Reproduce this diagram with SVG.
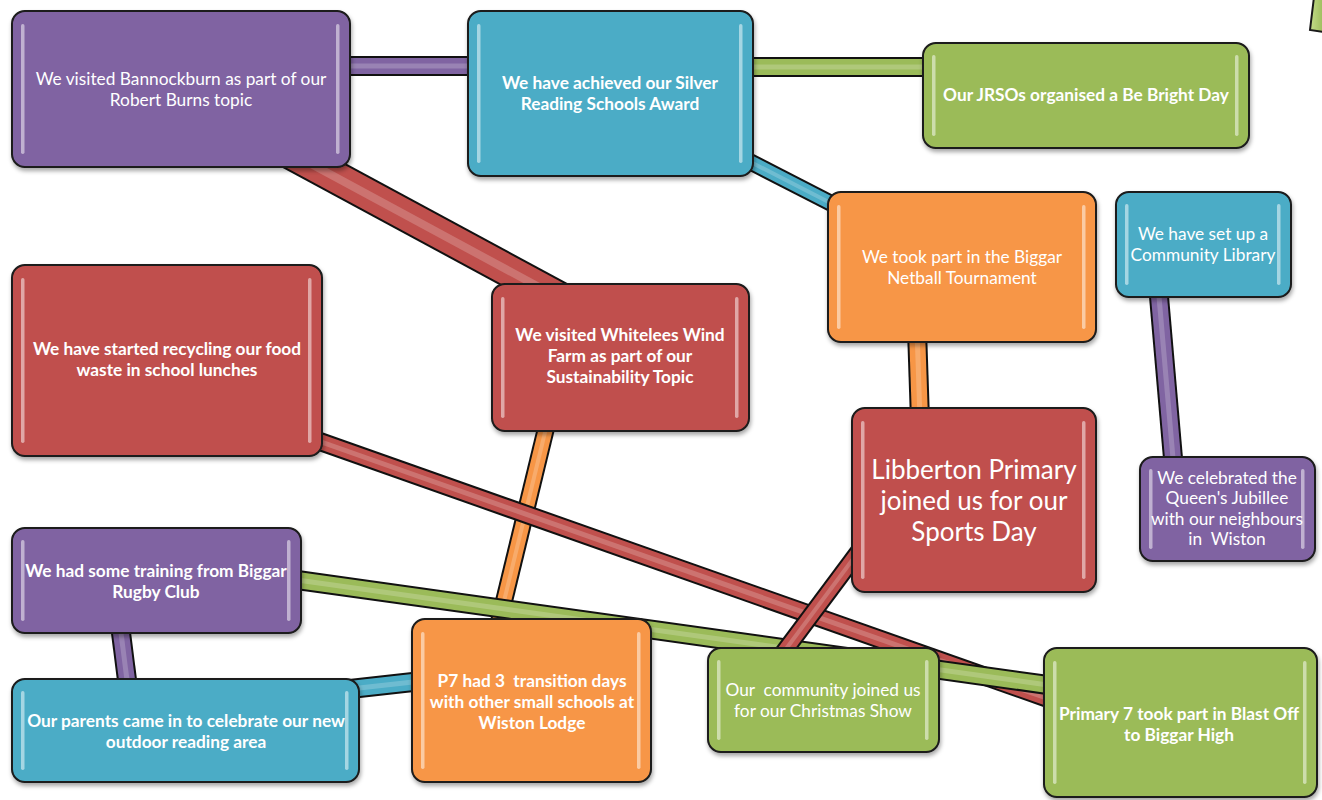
<svg xmlns="http://www.w3.org/2000/svg" width="1322" height="800" viewBox="0 0 1322 800">
<defs>
<filter id="sh" x="-10%" y="-10%" width="125%" height="130%">
<feDropShadow dx="1" dy="3" stdDeviation="2" flood-color="#000" flood-opacity="0.35"/>
</filter>
<linearGradient id="gcorner" x1="0" y1="0" x2="1" y2="0">
<stop offset="0" stop-color="#c4dd8a"/><stop offset="1" stop-color="#9bbb59"/>
</linearGradient>
</defs>
<style>
.box{stroke:#1a1a1a;stroke-width:2;filter:url(#sh)}
.purple{fill:#8064a2}
.blue{fill:#4bacc6}
.green{fill:#9bbb59}
.orange{fill:#f79646}
.red{fill:#c0504d}
.hl{fill:#ffffff;opacity:0.5}
.t{font-family:Lato,"Liberation Sans",sans-serif;font-size:17.3px;fill:#ffffff;text-anchor:middle}
.b{font-weight:bold}
.pre{white-space:pre}
.co{stroke:#111111;fill:none;stroke-linecap:butt}
.cp{stroke:#8064a2;fill:none}
.cb{stroke:#4bacc6;fill:none}
.cg{stroke:#9bbb59;fill:none}
.cor{stroke:#f79646;fill:none}
.cr{stroke:#c0504d;fill:none}
.ci{stroke:#ffffff;stroke-opacity:0.2;fill:none}
</style>
<rect width="1322" height="800" fill="#ffffff"/>

<g id="connectors">
<!-- Bannockburn - Silver -->
<line class="co" x1="340" y1="66" x2="480" y2="66" stroke-width="20"/>
<line class="cp" x1="340" y1="66" x2="480" y2="66" stroke-width="16"/>
<line class="ci" x1="340" y1="66" x2="480" y2="66" stroke-width="5"/>
<!-- Silver - JRSOs -->
<line class="co" x1="740" y1="67" x2="935" y2="67" stroke-width="20"/>
<line class="cg" x1="740" y1="67" x2="935" y2="67" stroke-width="16"/>
<line class="ci" x1="740" y1="67" x2="935" y2="67" stroke-width="5"/>
<!-- Silver - Netball -->
<line class="co" x1="735" y1="154" x2="850" y2="213" stroke-width="17"/>
<line class="cb" x1="735" y1="154" x2="850" y2="213" stroke-width="13"/>
<line class="ci" x1="735" y1="154" x2="850" y2="213" stroke-width="4"/>
<!-- Bannockburn - Whitelees (thick) -->
<line class="co" x1="200" y1="104" x2="600" y2="320" stroke-width="34"/>
<line class="cr" x1="200" y1="104" x2="600" y2="320" stroke-width="30"/>
<line class="ci" x1="200" y1="104" x2="600" y2="320" stroke-width="8"/>
<!-- Netball - Libberton -->
<line class="co" x1="917" y1="330" x2="920" y2="420" stroke-width="20"/>
<line class="cor" x1="917" y1="330" x2="920" y2="420" stroke-width="16"/>
<line class="ci" x1="917" y1="330" x2="920" y2="420" stroke-width="5"/>
<!-- Library - Jubilee -->
<line class="co" x1="1158" y1="285" x2="1174" y2="470" stroke-width="20"/>
<line class="cp" x1="1158" y1="285" x2="1174" y2="470" stroke-width="16"/>
<line class="ci" x1="1158" y1="285" x2="1174" y2="470" stroke-width="5"/>
<!-- Whitelees - P7 -->
<line class="co" x1="548" y1="420" x2="497" y2="630" stroke-width="18"/>
<line class="cor" x1="548" y1="420" x2="497" y2="630" stroke-width="14"/>
<line class="ci" x1="548" y1="420" x2="497" y2="630" stroke-width="4"/>
<!-- Recycling - Blast Off (red long) -->
<line class="co" x1="310" y1="438" x2="1055" y2="701" stroke-width="19"/>
<line class="cr" x1="310" y1="438" x2="1055" y2="701" stroke-width="15"/>
<line class="ci" x1="310" y1="438" x2="1055" y2="701" stroke-width="5"/>
<!-- Rugby - Blast Off (green long) -->
<line class="co" x1="290" y1="579" x2="1055" y2="686" stroke-width="20"/>
<line class="cg" x1="290" y1="579" x2="1055" y2="686" stroke-width="16"/>
<line class="ci" x1="290" y1="579" x2="1055" y2="686" stroke-width="5"/>
<!-- Libberton - Christmas -->
<line class="co" x1="862" y1="547" x2="780" y2="657" stroke-width="18"/>
<line class="cr" x1="862" y1="547" x2="780" y2="657" stroke-width="14"/>
<line class="ci" x1="862" y1="547" x2="780" y2="657" stroke-width="4"/>
<!-- Parents - P7 -->
<line class="co" x1="350" y1="689" x2="422" y2="681" stroke-width="20"/>
<line class="cb" x1="350" y1="689" x2="422" y2="681" stroke-width="16"/>
<line class="ci" x1="350" y1="689" x2="422" y2="681" stroke-width="5"/>
<!-- Rugby - Parents -->
<line class="co" x1="120" y1="625" x2="128" y2="688" stroke-width="20"/>
<line class="cp" x1="120" y1="625" x2="128" y2="688" stroke-width="16"/>
<line class="ci" x1="120" y1="625" x2="128" y2="688" stroke-width="5"/>
</g>

<g id="corner-shape">
<polygon points="1314,-3 1324,-3 1324,32 1310,30" fill="url(#gcorner)" stroke="#1a1a1a" stroke-width="2"/>
</g>

<g id="n-bannockburn">
<rect class="box purple" x="12" y="11" width="338" height="156" rx="13"/>
<rect class="hl" x="21" y="24" width="3.5" height="130" rx="1.7"/>
<rect class="hl" x="336" y="24" width="3.5" height="130" rx="1.7"/>
<text class="t" x="181" y="85">We visited Bannockburn as part of our</text>
<text class="t" x="181" y="106">Robert Burns topic</text>
</g>

<g id="n-silver">
<rect class="box blue" x="468" y="11" width="285" height="165" rx="13"/>
<rect class="hl" x="477" y="24" width="3.5" height="139" rx="1.7"/>
<rect class="hl" x="739" y="24" width="3.5" height="139" rx="1.7"/>
<text class="t b" x="610" y="89">We have achieved our Silver</text>
<text class="t b" x="610" y="110">Reading Schools Award</text>
</g>

<g id="n-jrsos">
<rect class="box green" x="923" y="43" width="326" height="105" rx="13"/>
<rect class="hl" x="932" y="55" width="3.5" height="81" rx="1.7"/>
<rect class="hl" x="1235" y="55" width="3.5" height="81" rx="1.7"/>
<text class="t b" x="1086" y="101">Our JRSOs organised a Be Bright Day</text>
</g>

<g id="n-netball">
<rect class="box orange" x="828" y="192" width="268" height="150" rx="13"/>
<rect class="hl" x="837" y="205" width="3.5" height="124" rx="1.7"/>
<rect class="hl" x="1082" y="205" width="3.5" height="124" rx="1.7"/>
<text class="t" x="962" y="263">We took part in the Biggar</text>
<text class="t" x="962" y="284">Netball Tournament</text>
</g>

<g id="n-library">
<rect class="box blue" x="1116" y="192" width="175" height="105" rx="13"/>
<rect class="hl" x="1125" y="204" width="3.5" height="81" rx="1.7"/>
<rect class="hl" x="1277" y="204" width="3.5" height="81" rx="1.7"/>
<text class="t" x="1203" y="240">We have set up a</text>
<text class="t" x="1203" y="261">Community Library</text>
</g>

<g id="n-recycling">
<rect class="box red" x="12" y="265" width="310" height="191" rx="13"/>
<rect class="hl" x="21" y="278" width="3.5" height="165" rx="1.7"/>
<rect class="hl" x="308" y="278" width="3.5" height="165" rx="1.7"/>
<text class="t b" x="167" y="355">We have started recycling our food</text>
<text class="t b" x="167" y="376">waste in school lunches</text>
</g>

<g id="n-whitelees">
<rect class="box red" x="492" y="284" width="257" height="147" rx="13"/>
<rect class="hl" x="501" y="297" width="3.5" height="121" rx="1.7"/>
<rect class="hl" x="735" y="297" width="3.5" height="121" rx="1.7"/>
<text class="t b" x="620" y="341">We visited Whitelees Wind</text>
<text class="t b" x="620" y="362">Farm as part of our</text>
<text class="t b" x="620" y="383">Sustainability Topic</text>
</g>

<g id="n-libberton">
<rect class="box red" x="852" y="408" width="244" height="184" rx="13"/>
<rect class="hl" x="861" y="421" width="3.5" height="158" rx="1.7"/>
<rect class="hl" x="1082" y="421" width="3.5" height="158" rx="1.7"/>
<text class="t" x="974" y="479" style="font-size:26px">Libberton Primary</text>
<text class="t" x="974" y="510" style="font-size:26px">joined us for our</text>
<text class="t" x="974" y="541" style="font-size:26px">Sports Day</text>
</g>

<g id="n-jubilee">
<rect class="box purple" x="1140" y="457" width="175" height="104" rx="13"/>
<rect class="hl" x="1149" y="469" width="3.5" height="80" rx="1.7"/>
<rect class="hl" x="1301" y="469" width="3.5" height="80" rx="1.7"/>
<text class="t" x="1227" y="484">We celebrated the</text>
<text class="t" x="1227" y="504">Queen's Jubillee</text>
<text class="t" x="1227" y="525">with our neighbours</text>
<text class="t pre" x="1227" y="545">in  Wiston</text>
</g>

<g id="n-rugby">
<rect class="box purple" x="12" y="528" width="289" height="105" rx="13"/>
<rect class="hl" x="21" y="540" width="3.5" height="81" rx="1.7"/>
<rect class="hl" x="287" y="540" width="3.5" height="81" rx="1.7"/>
<text class="t b" x="156" y="577">We had some training from Biggar</text>
<text class="t b" x="156" y="598">Rugby Club</text>
</g>

<g id="n-parents">
<rect class="box blue" x="12" y="679" width="347" height="103" rx="13"/>
<rect class="hl" x="21" y="691" width="3.5" height="79" rx="1.7"/>
<rect class="hl" x="345" y="691" width="3.5" height="79" rx="1.7"/>
<text class="t b" x="186" y="727">Our parents came in to celebrate our new</text>
<text class="t b" x="186" y="748">outdoor reading area</text>
</g>

<g id="n-p7">
<rect class="box orange" x="412" y="619" width="239" height="163" rx="13"/>
<rect class="hl" x="421" y="632" width="3.5" height="137" rx="1.7"/>
<rect class="hl" x="637" y="632" width="3.5" height="137" rx="1.7"/>
<text class="t b pre" x="532" y="687">P7 had 3  transition days</text>
<text class="t b" x="532" y="708">with other small schools at</text>
<text class="t b" x="532" y="729">Wiston Lodge</text>
</g>

<g id="n-christmas">
<rect class="box green" x="708" y="648" width="231" height="104" rx="13"/>
<rect class="hl" x="717" y="660" width="3.5" height="80" rx="1.7"/>
<rect class="hl" x="925" y="660" width="3.5" height="80" rx="1.7"/>
<text class="t pre" x="823" y="696">Our  community joined us</text>
<text class="t" x="823" y="717">for our Christmas Show</text>
</g>

<g id="n-blastoff">
<rect class="box green" x="1044" y="648" width="273" height="149" rx="13"/>
<rect class="hl" x="1053" y="661" width="3.5" height="123" rx="1.7"/>
<rect class="hl" x="1303" y="661" width="3.5" height="123" rx="1.7"/>
<text class="t b" x="1179" y="720">Primary 7 took part in Blast Off</text>
<text class="t b" x="1179" y="741">to Biggar High</text>
</g>
</svg>
